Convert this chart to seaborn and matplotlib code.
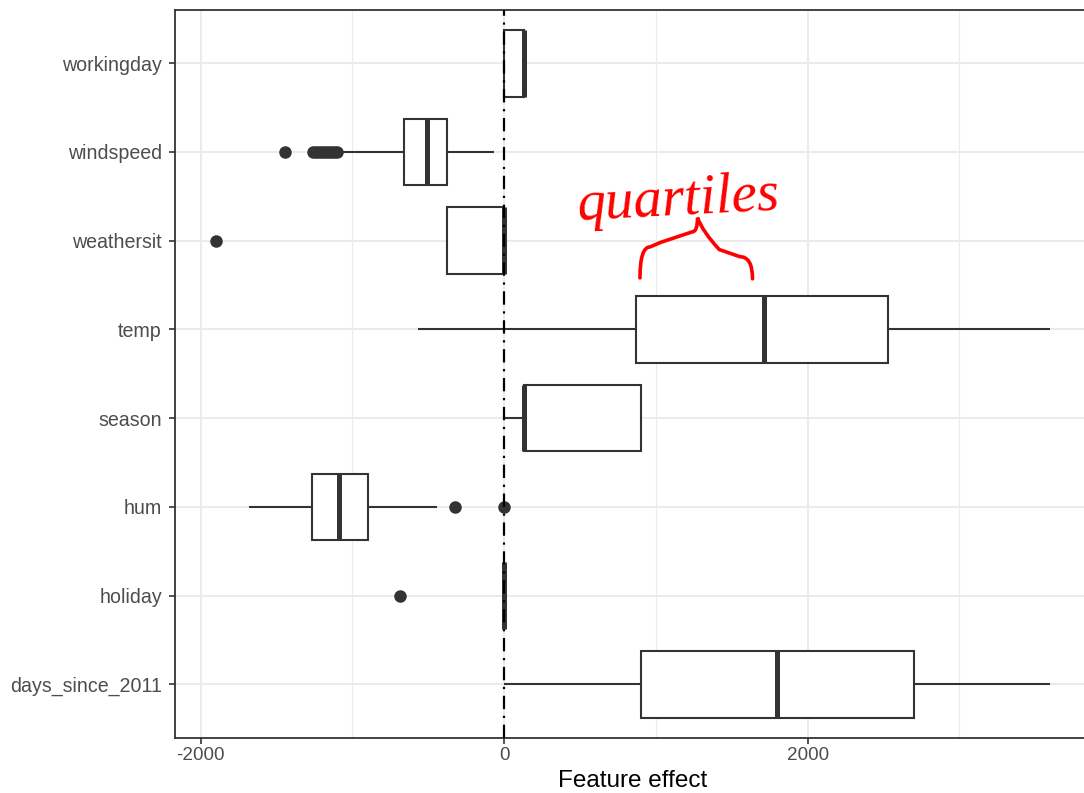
import numpy as np
import pandas as pd
import matplotlib
matplotlib.use("Agg")
import matplotlib.pyplot as plt
from matplotlib.path import Path
from matplotlib.patches import PathPatch
import seaborn as sns

# Feature effects (weight * feature value) for a sample of instances
features = ["workingday", "windspeed", "weathersit", "temp",
            "season", "hum", "holiday", "days_since_2011"]

workingday = [0, 0, 130, 130, 130]
windspeed = [-1443, -1259, -1240, -1220, -1200, -1180, -1160, -1140,
             -1120, -1100,
             -1059, -850, -663,
             -650, -636, -622, -608, -594, -580, -566, -552, -538, -524,
             -516,
             -509,
             -497, -485, -473, -461, -449, -437, -425, -413, -401, -390,
             -384,
             -378,
             -350, -320, -290, -260, -230, -200, -170, -140, -115, -95,
             -80, -66]
weathersit = [-1898, -378, -378, 0, 0, 0, 0, 0, 0]
temp = [-569, -100, 870, 1300, 1713, 2100, 2530, 3000, 3598]
season = [0, 0, 134, 134, 134, 430, 903, 903, 903]
hum = [-1684, -1500, -1350, -1268, -1200, -1150, -1089,
       -1000, -950, -898, -441, -325, 0]
holiday = [-686, 0, 0, 0, 0, 0, 0, 0, 0]
days_since_2011 = [0, 450, 901, 1350, 1801, 2250, 2704, 3150, 3598]

series = {
    "workingday": workingday,
    "windspeed": windspeed,
    "weathersit": weathersit,
    "temp": temp,
    "season": season,
    "hum": hum,
    "holiday": holiday,
    "days_since_2011": days_since_2011,
}
df = pd.DataFrame(
    [(f, v) for f in features for v in series[f]],
    columns=["feature", "effect"],
)

sns.set_theme(style="white")
plt.rcParams["font.family"] = ["Liberation Sans", "DejaVu Sans"]
plt.rcParams["axes.unicode_minus"] = False

W, H = 1084, 793
fig = plt.figure(figsize=(W / 100, H / 100), dpi=100)
ax = fig.add_axes([174.5 / W, (H - 737.5) / H, (1091.7 - 174.5) / W, 727.5 / H])

ink = "#333333"
sns.boxplot(
    data=df, x="effect", y="feature", order=features, orient="h",
    color="white", linecolor=ink, linewidth=1.5, width=0.75,
    whis=1.5, showcaps=False, fliersize=8,
    medianprops={"linewidth": 3.6, "color": ink},
    flierprops={"marker": "o", "markerfacecolor": ink,
                "markeredgecolor": ink},
    ax=ax, zorder=3,
)

# Reference line at zero effect
ax.axvline(0, color="black", linewidth=1.6,
           linestyle=(0, (6, 3, 1, 3)), zorder=4)

# Axis range with ggplot-like 5% padding
lo, hi = df["effect"].min(), df["effect"].max()
pad = 0.05 * (hi - lo)
ax.set_xlim(lo - pad, hi + pad)
ax.set_ylim(len(features) - 0.4, -0.6)

# Grid
ax.set_xticks([-2000, 0, 2000])
ax.set_xticks([-1000, 1000, 3000], minor=True)
ax.grid(True, which="major", axis="both", color="#EBEBEB", linewidth=1.4)
ax.grid(True, which="minor", axis="x", color="#EBEBEB", linewidth=0.8)
ax.set_axisbelow(True)

for s in ax.spines.values():
    s.set_color(ink)
    s.set_linewidth(1.3)
    s.set_visible(True)

ax.tick_params(axis="both", which="major", length=4, width=1.2, color=ink,
               labelcolor="#4D4D4D", left=True, bottom=True)
ax.tick_params(axis="x", which="major", labelsize=13.6, pad=3)
ax.tick_params(axis="y", which="major", labelsize=14.1, pad=5)
ax.tick_params(axis="x", which="minor", length=0)
ax.set_ylabel("")
ax.set_xlabel("Feature effect", fontsize=17.5, color="black", labelpad=4)

# Hand-drawn note over the temp quartiles
q1, med = np.percentile(temp, [25, 50])
row = features.index("temp")
span = med - q1
fx = np.array([0.03, 0.11, 0.19, 0.44, 0.48, 0.52, 0.65, 0.81, 0.91])
fy = np.array([-0.58, -0.93, -0.98, -1.10, -1.26, -1.05, -0.90, -0.82, -0.57])
bx = q1 + fx * span
by = row + fy
verts = [(bx[0], by[0]), (bx[0], by[1]), (bx[1], by[1]), (bx[2], by[2]),
         (bx[3], by[3]), (bx[4], by[3]), (bx[4], by[4]),
         (bx[5], by[3]), (bx[6], by[6]), (bx[7], by[7]),
         (bx[8], by[7]), (bx[8], by[8])]
codes = [Path.MOVETO, Path.CURVE3, Path.CURVE3, Path.LINETO,
         Path.LINETO, Path.CURVE3, Path.CURVE3,
         Path.CURVE3, Path.CURVE3, Path.LINETO,
         Path.CURVE3, Path.CURVE3]
ax.add_patch(PathPatch(Path(verts, codes), facecolor="none",
                       edgecolor="red", linewidth=2.6, capstyle="round",
                       zorder=6))
ax.text(q1 + 0.33 * span, row - 1.45, "quartiles", color="red",
        fontsize=41, fontstyle="italic", family=["Liberation Serif"],
        ha="center", va="center", rotation=3, zorder=6)

fig.savefig("out.png", dpi=100)
